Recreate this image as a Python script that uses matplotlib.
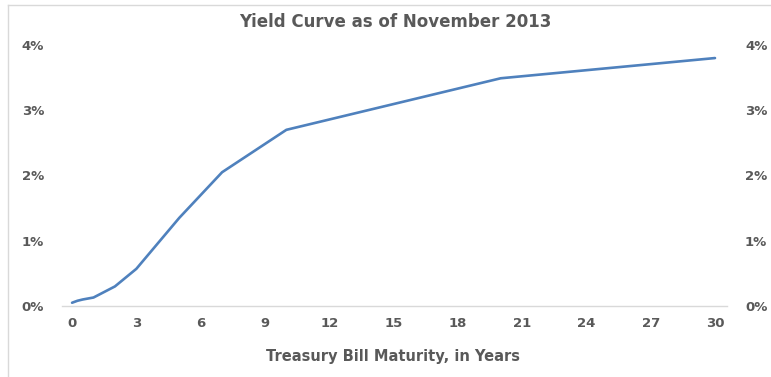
import matplotlib
matplotlib.use("Agg")
import matplotlib.pyplot as plt
from matplotlib.lines import Line2D

# Treasury yields, November 2013
maturity = [0, 0.25, 0.5, 1, 2, 3, 5, 7, 10, 20, 30]
yield_pct = [0.05, 0.08, 0.10, 0.13, 0.30, 0.57, 1.35, 2.05, 2.70, 3.49, 3.80]
x_ticks = [0, 3, 6, 9, 12, 15, 18, 21, 24, 27, 30]
y_ticks = [0, 1, 2, 3, 4]

grey = "#595959"
blue = "#4F81BD"

fig = plt.figure(figsize=(7.71, 3.77), dpi=100)
W, H = 771, 377
ax = fig.add_axes([62 / W, (H - 306) / H, (727 - 62) / W, (306 - 45) / H])

ax.plot(maturity, yield_pct, color=blue, lw=1.9, solid_capstyle="round")
ax.set_xlim(-0.47, 30.56)
ax.set_ylim(0, 4)

for s in ["top", "right", "left"]:
    ax.spines[s].set_visible(False)
ax.spines["bottom"].set_color("#D9D9D9")
ax.spines["bottom"].set_linewidth(1.0)

ax.set_xticks(x_ticks)
ax.set_xticklabels([str(t) for t in x_ticks])
ax.set_yticks(y_ticks)
ax.set_yticklabels([f"{t}%" for t in y_ticks])
ax.tick_params(axis="both", length=0, colors=grey, labelsize=9.5)
ax.tick_params(axis="x", pad=8)
ax.tick_params(axis="y", pad=13)
for lbl in ax.get_xticklabels() + ax.get_yticklabels():
    lbl.set_fontweight("bold")

ax2 = ax.twinx()
ax2.set_ylim(0, 4)
ax2.set_yticks(y_ticks)
ax2.set_yticklabels([f"{t}%" for t in y_ticks])
for s in ["top", "right", "left", "bottom"]:
    ax2.spines[s].set_visible(False)
ax2.tick_params(axis="y", length=0, colors=grey, labelsize=9.5, pad=13)
for lbl in ax2.get_yticklabels():
    lbl.set_fontweight("bold")

fig.text(395 / W, 1 - 22 / H, "Yield Curve as of November 2013", ha="center",
         va="center", fontsize=12, fontweight="bold", color=grey)
fig.text(393 / W, 1 - 356 / H, "Treasury Bill Maturity, in Years", ha="center",
         va="center", fontsize=10.5, fontweight="bold", color=grey)

# chart border
fig.add_artist(Line2D([8 / W, 8 / W], [0, 1 - 5 / H], color="#D9D9D9", lw=1,
                      transform=fig.transFigure))
fig.add_artist(Line2D([8 / W, 1], [1 - 5 / H, 1 - 5 / H], color="#D9D9D9", lw=1,
                      transform=fig.transFigure))

fig.savefig("out.png", dpi=100)
